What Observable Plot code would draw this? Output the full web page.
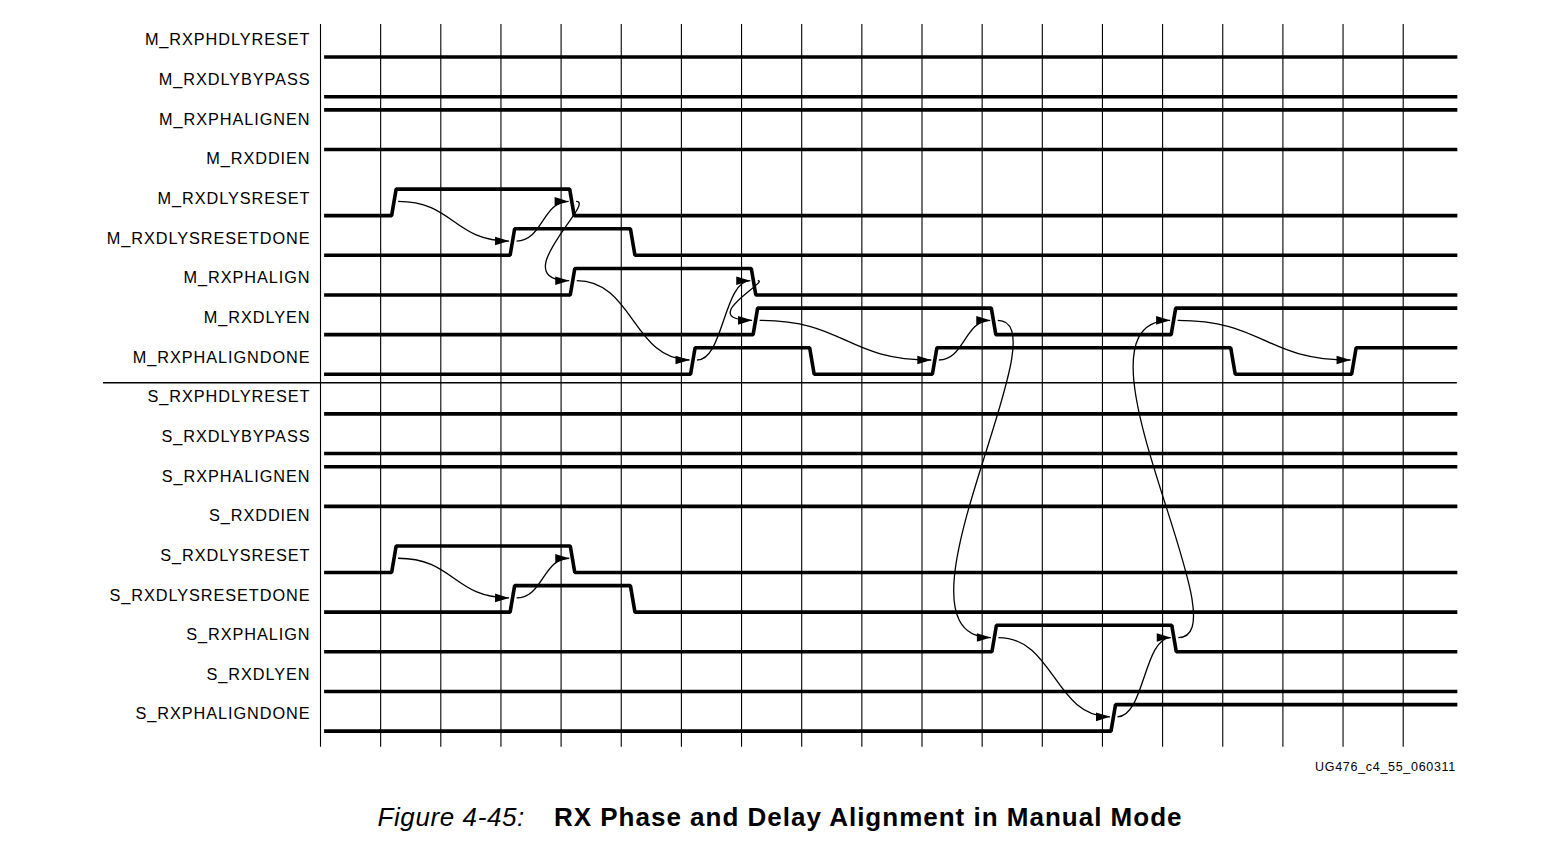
<!DOCTYPE html>
<html>
<head>
<meta charset="utf-8">
<script src="https://cdn.jsdelivr.net/npm/d3@7"></script>
<script src="https://cdn.jsdelivr.net/npm/@observablehq/plot@0.6"></script>
<style>
  html, body { margin: 0; padding: 0; background: #fff; }
  body { width: 1560px; height: 850px; position: relative; font-family: "Liberation Sans", Arial, Helvetica, sans-serif; color: #000; }
  #chart { position: absolute; left: 0; top: 0; }
  g[aria-label="y-axis tick label"] text { letter-spacing: 0.93px; }
  #code { position: absolute; top: 760px; right: 104px; font-size: 12.5px; line-height: 15px; letter-spacing: 0.7px; }
  #caption { position: absolute; top: 802px; left: 0; width: 1560px; display: flex; justify-content: center; font-size: 26px; line-height: 30px; }
  #caption .num { font-style: italic; letter-spacing: 0.6px; margin-right: 29px; }
  #caption .ttl { font-weight: bold; letter-spacing: 1.0px; }
</style>
</head>
<body>
<div id="chart"></div>
<div id="code">UG476_c4_55_060311</div>
<div id="caption"><span class="num">Figure 4-45:</span><span class="ttl">RX Phase and Delay Alignment in Manual Mode</span></div>
<script>
// ---- data ----
const signals = [
  "M_RXPHDLYRESET", "M_RXDLYBYPASS", "M_RXPHALIGNEN", "M_RXDDIEN",
  "M_RXDLYSRESET", "M_RXDLYSRESETDONE", "M_RXPHALIGN", "M_RXDLYEN", "M_RXPHALIGNDONE",
  "S_RXPHDLYRESET", "S_RXDLYBYPASS", "S_RXPHALIGNEN", "S_RXDDIEN",
  "S_RXDLYSRESET", "S_RXDLYSRESETDONE", "S_RXPHALIGN", "S_RXDLYEN", "S_RXPHALIGNDONE"
];
// logic level at time 0 (0 = low, 1 = high)
const initialLevels = [0, 0, 1, 1, 0, 0, 0, 0, 0, 0, 0, 1, 1, 0, 0, 0, 0, 0];
// times (in clock periods) at which each signal toggles
const edgeTimes = [
  [], [], [], [],
  [1.22, 4.18],
  [3.19, 5.19],
  [4.19, 7.2],
  [7.23, 11.19, 14.18],
  [6.19, 8.17, 10.21, 15.17, 17.18],
  [], [], [], [],
  [1.22, 4.19],
  [3.19, 5.19],
  [11.2, 14.19],
  [],
  [13.18]
];
// causal arrows: [from signal, from edge time, to signal, to edge time]
const arrows = [
  ["M_RXDLYSRESET", 1.22, "M_RXDLYSRESETDONE", 3.19],
  ["M_RXDLYSRESETDONE", 3.19, "M_RXDLYSRESET", 4.18],
  ["M_RXDLYSRESET", 4.18, "M_RXPHALIGN", 4.19],
  ["M_RXPHALIGN", 4.19, "M_RXPHALIGNDONE", 6.19],
  ["M_RXPHALIGNDONE", 6.19, "M_RXPHALIGN", 7.2],
  ["M_RXPHALIGN", 7.2, "M_RXDLYEN", 7.23],
  ["M_RXDLYEN", 7.23, "M_RXPHALIGNDONE", 10.21],
  ["M_RXPHALIGNDONE", 10.21, "M_RXDLYEN", 11.19],
  ["M_RXDLYEN", 11.19, "S_RXPHALIGN", 11.2],
  ["S_RXPHALIGN", 11.2, "S_RXPHALIGNDONE", 13.18],
  ["S_RXPHALIGNDONE", 13.18, "S_RXPHALIGN", 14.19],
  ["S_RXPHALIGN", 14.19, "M_RXDLYEN", 14.18],
  ["M_RXDLYEN", 14.18, "M_RXPHALIGNDONE", 17.18],
  ["S_RXDLYSRESET", 1.22, "S_RXDLYSRESETDONE", 3.19],
  ["S_RXDLYSRESETDONE", 3.19, "S_RXDLYSRESET", 4.19]
];
const gridTimes = d3.range(0, 19);
const timeStart = 0.06, timeEnd = 18.9;

// ---- layout constants ----
const LOW = 0.4255, HIGH = -0.243, ARROW_Y = 0.065;
const EDGE_HALF = 0.0375, ARROW_START = 0.07, ARROW_TIP = 0.055;

// ---- derived tables ----
const wave = [];
signals.forEach((name, i) => {
  let lvl = initialLevels[i];
  const yOf = (l) => i + (l ? HIGH : LOW);
  wave.push({sig: name, t: timeStart, y: yOf(lvl)});
  for (const t of edgeTimes[i]) {
    wave.push({sig: name, t: t - EDGE_HALF, y: yOf(lvl)});
    lvl = 1 - lvl;
    wave.push({sig: name, t: t + EDGE_HALF, y: yOf(lvl)});
  }
  wave.push({sig: name, t: timeEnd, y: yOf(lvl)});
});
const links = arrows.map(([a, ta, b, tb]) => ({
  x1: ta + ARROW_START, y1: signals.indexOf(a) + ARROW_Y,
  x2: tb - ARROW_TIP, y2: signals.indexOf(b) + ARROW_Y
}));

// cubic link with horizontal tangents; loops back when the target is not to the right
function signalArc(context) {
  let p = [];
  return {
    areaStart() {}, areaEnd() {},
    lineStart() { p = []; },
    point(x, y) { p.push([+x, +y]); },
    lineEnd() {
      const [[x0, y0], [x1, y1]] = p;
      const dx = x1 - x0, dy = Math.abs(y1 - y0);
      let k1, k2;
      if (dx > 20) { k1 = k2 = dx / 2; }
      else { k1 = 5 + 0.2 * dy; k2 = 50 + 0.2 * dy; }
      context.moveTo(x0, y0);
      context.bezierCurveTo(x0 + k1, y0, x1 - k2, y1, x1, y1);
    }
  };
}
const arrowHead = {
  draw(ctx) {
    ctx.moveTo(0, 0);
    ctx.lineTo(-14, -4.3);
    ctx.lineTo(-14, 4.3);
    ctx.closePath();
  }
};

const chart = Plot.plot({
  width: 1560,
  height: 760,
  marginLeft: 320, marginRight: 0, marginTop: 0, marginBottom: 0,
  x: {domain: [0, 18], range: [320, 1402.7], axis: null},
  y: {domain: [0, 17], range: [39.7, 713.75]},
  style: {fontFamily: "'Liberation Sans', Arial, Helvetica, sans-serif", background: "#fff", color: "#000", overflow: "visible"},
  marks: [
    Plot.ruleX(gridTimes, {x: d => d, y1: -0.396, y2: 17.83, stroke: "#000", strokeWidth: 1.1}),
    Plot.ruleY([8.641], {x1: -3.608, x2: timeEnd, stroke: "#000", strokeWidth: 1.5}),
    Plot.line(wave, {x: "t", y: "y", z: "sig", stroke: "#000", strokeWidth: 3.6, strokeLinejoin: "miter", strokeLinecap: "butt", curve: "linear"}),
    Plot.link(links, {x1: "x1", y1: "y1", x2: "x2", y2: "y2", curve: signalArc, stroke: "#000", strokeWidth: 1.3}),
    Plot.dot(links, {x: "x2", y: "y2", symbol: arrowHead, fill: "#000", stroke: "none"}),
    Plot.axisY(d3.range(signals.length), {anchor: "left", tickSize: 0, tickPadding: 10, fontSize: 16.3, label: null, tickFormat: i => signals[i]})
  ]
});
document.getElementById("chart").appendChild(chart);
</script>
</body>
</html>
